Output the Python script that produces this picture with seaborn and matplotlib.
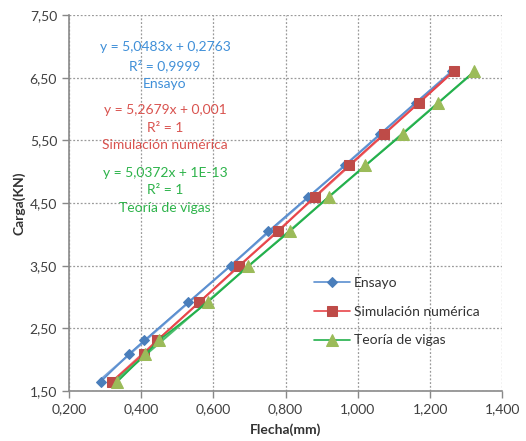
import numpy as np
import pandas as pd
import matplotlib
matplotlib.use("Agg")
import matplotlib.pyplot as plt
import seaborn as sns
from matplotlib.ticker import FuncFormatter

# Datos (Flecha en mm, Carga en KN)
carga = [1.65, 2.09, 2.31, 2.92, 3.50, 4.05, 4.60, 5.10, 5.60, 6.10, 6.60]
flecha_ensayo = [0.288, 0.366, 0.409, 0.531, 0.648, 0.752, 0.863, 0.965, 1.062, 1.160, 1.262]
flecha_simulacion = [0.318, 0.407, 0.444, 0.561, 0.671, 0.780, 0.880, 0.975, 1.072, 1.170, 1.266]
flecha_teoria = [0.334, 0.412, 0.449, 0.585, 0.697, 0.812, 0.919, 1.021, 1.124, 1.223, 1.322]

series = ["Ensayo", "Simulación numérica", "Teoría de vigas"]
ecuaciones = ["y = 5,0483x + 0,2763\nR² = 0,9999\nEnsayo",
              "y = 5,2679x + 0,001\nR² = 1\nSimulación numérica",
              "y = 5,0372x + 1E-13\nR² = 1\nTeoría de vigas"]

df = pd.DataFrame({
    "flecha": flecha_ensayo + flecha_simulacion + flecha_teoria,
    "carga": carga * 3,
    "serie": [s for s in series for _ in carga],
})

sns.set_style("white")
plt.rcParams["font.family"] = ["Lato", "DejaVu Sans"]

colores_linea = ["#5B8FD0", "#E8454A", "#22B04B"]
colores_marca = ["#4A7EBB", "#BE4B48", "#9BBB59"]
marcadores = ["D", "s", "^"]
tamanos = [5, 7.5, 8]
colores_texto = ["#3F8FD8", "#D9534F", "#2DB34A"]

fig, ax = plt.subplots(figsize=(5.26, 4.41), dpi=100)
fig.subplots_adjust(left=0.131, right=0.955, top=0.966, bottom=0.113)

for i, s in enumerate(series):
    d = df[df["serie"] == s]
    # línea de tendencia
    sns.regplot(data=d, x="flecha", y="carga", scatter=False, ci=None, ax=ax,
                line_kws=dict(color=colores_linea[i], lw=1.6, alpha=0.8))
    sns.lineplot(data=d, x="flecha", y="carga", sort=False, ax=ax,
                 color=colores_linea[i], lw=1.2, marker=marcadores[i],
                 markersize=tamanos[i], markerfacecolor=colores_marca[i],
                 markeredgecolor=colores_marca[i], label=s)

ax.set_xlim(0.2, 1.4)
ax.set_ylim(1.5, 7.5)
ax.set_xticks(np.arange(0.2, 1.41, 0.2))
ax.set_yticks(np.arange(1.5, 7.51, 1.0))
ax.xaxis.set_major_formatter(FuncFormatter(lambda v, p: f"{v:.3f}".replace(".", ",")))
ax.yaxis.set_major_formatter(FuncFormatter(lambda v, p: f"{v:.2f}".replace(".", ",")))
ax.tick_params(axis="both", direction="out", length=5, width=1, color="#888888",
               labelsize=10, labelcolor="#404040", left=True, bottom=True)

ax.grid(True, linestyle=(0, (1.5, 1.5)), color="#9a9a9a", lw=0.9)
for lado in ["top", "right"]:
    ax.spines[lado].set_visible(False)
for lado in ["left", "bottom"]:
    ax.spines[lado].set_color("#8a8a8a")
    ax.spines[lado].set_linewidth(1.2)

ax.set_xlabel("Flecha(mm)", fontsize=10, fontweight="bold", color="#333333", labelpad=6)
ax.set_ylabel("Carga(KN)", fontsize=10, fontweight="bold", color="#333333", labelpad=3)

# etiquetas de las ecuaciones
posiciones_y = [6.6, 5.6, 4.6]
for i, texto in enumerate(ecuaciones):
    ax.text(0.466, posiciones_y[i] + 0.48, texto, color=colores_texto[i], fontsize=10,
            ha="center", va="top", linespacing=1.55)

leg = ax.legend(loc="upper left", bbox_to_anchor=(0.552, 0.318), frameon=False,
                fontsize=10, labelspacing=1.2, handlelength=2.6, handletextpad=0.3,
                borderaxespad=0)
for t in leg.get_texts():
    t.set_color("#333333")

fig.savefig("out.png", dpi=100)
